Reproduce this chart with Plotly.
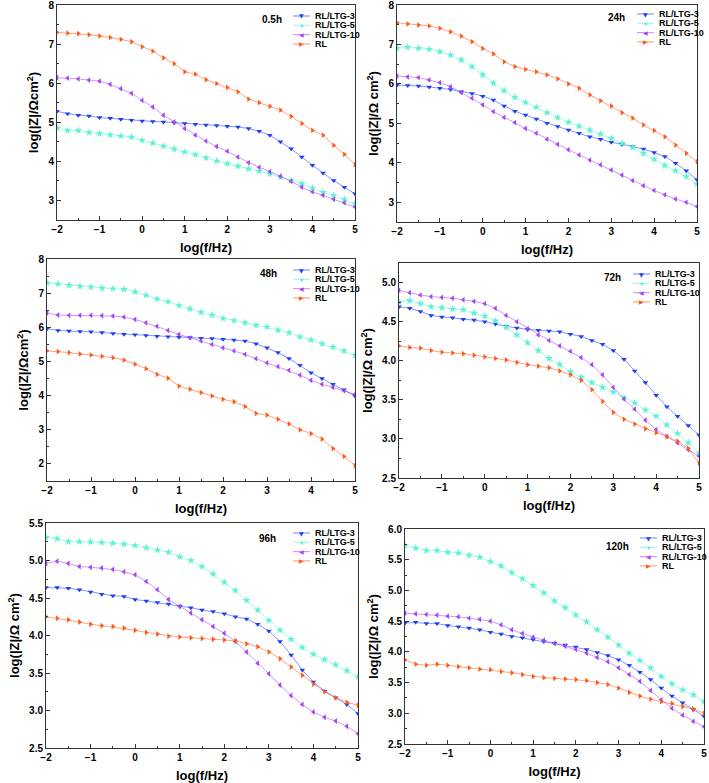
import plotly.graph_objects as go

# ---------------- data ----------------
freq_log = [-2, -1.75, -1.5, -1.25, -1, -0.75, -0.5, -0.25, 0, 0.25, 0.5, 0.75, 1,
            1.25, 1.5, 1.75, 2, 2.25, 2.5, 2.75, 3, 3.25, 3.5, 3.75, 4, 4.25, 4.5, 4.75, 5]

series_names = ["RL/LTG-3", "RL/LTG-5", "RL/LTG-10", "RL"]

# 0.5 h
h05_ltg3 = [5.28, 5.22, 5.18, 5.16, 5.12, 5.10, 5.08, 5.05, 5.03, 5.02, 5.01, 4.99, 4.97, 4.95, 4.93,
            4.92, 4.90, 4.88, 4.84, 4.77, 4.67, 4.50, 4.32, 4.11, 3.90, 3.70, 3.51, 3.34, 3.17]
h05_ltg5 = [4.85, 4.79, 4.79, 4.74, 4.71, 4.68, 4.65, 4.62, 4.54, 4.47, 4.39, 4.32, 4.24, 4.17, 4.09,
            4.01, 3.94, 3.88, 3.81, 3.75, 3.68, 3.60, 3.51, 3.43, 3.32, 3.21, 3.13, 3.03, 2.91]
h05_ltg10 = [6.14, 6.13, 6.11, 6.08, 6.05, 5.97, 5.86, 5.74, 5.56, 5.39, 5.18, 5.01, 4.84, 4.67, 4.52,
             4.38, 4.26, 4.11, 3.97, 3.85, 3.74, 3.62, 3.49, 3.34, 3.22, 3.13, 3.03, 2.94, 2.83]
h05_rl = [7.30, 7.28, 7.27, 7.24, 7.21, 7.17, 7.12, 7.06, 6.93, 6.82, 6.65, 6.50, 6.29, 6.23, 6.09,
          5.99, 5.89, 5.78, 5.59, 5.50, 5.41, 5.31, 5.15, 4.97, 4.79, 4.67, 4.41, 4.18, 3.92]

# 24 h
h24_ltg3 = [5.97, 5.96, 5.95, 5.92, 5.89, 5.86, 5.80, 5.76, 5.69, 5.59, 5.44, 5.31, 5.21, 5.11, 5.00,
            4.92, 4.83, 4.75, 4.66, 4.60, 4.52, 4.47, 4.41, 4.35, 4.26, 4.16, 3.99, 3.80, 3.57]
h24_ltg5 = [6.90, 6.93, 6.90, 6.88, 6.82, 6.73, 6.61, 6.44, 6.23, 6.02, 5.83, 5.66, 5.53, 5.41, 5.27,
            5.15, 5.03, 4.93, 4.83, 4.73, 4.62, 4.50, 4.39, 4.24, 4.09, 3.93, 3.80, 3.65, 3.46]
h24_ltg10 = [6.20, 6.18, 6.16, 6.10, 6.03, 5.93, 5.78, 5.64, 5.47, 5.30, 5.15, 5.02, 4.87, 4.75, 4.60,
             4.47, 4.33, 4.20, 4.07, 3.95, 3.82, 3.69, 3.55, 3.42, 3.30, 3.19, 3.08, 3.00, 2.89]
h24_rl = [7.55, 7.52, 7.49, 7.47, 7.41, 7.32, 7.21, 7.07, 6.90, 6.76, 6.56, 6.44, 6.37, 6.31, 6.23,
          6.13, 6.00, 5.89, 5.72, 5.57, 5.44, 5.27, 5.13, 4.96, 4.82, 4.66, 4.45, 4.24, 4.03]

# 48 h
h48_ltg3 = [5.96, 5.91, 5.89, 5.88, 5.87, 5.85, 5.82, 5.80, 5.78, 5.76, 5.74, 5.72, 5.71, 5.70, 5.68,
            5.67, 5.65, 5.63, 5.60, 5.52, 5.40, 5.26, 5.09, 4.89, 4.67, 4.50, 4.33, 4.17, 3.99]
h48_ltg5 = [7.30, 7.27, 7.23, 7.20, 7.18, 7.15, 7.13, 7.11, 7.04, 6.94, 6.83, 6.75, 6.64, 6.54, 6.44,
            6.36, 6.26, 6.20, 6.13, 6.06, 6.01, 5.92, 5.84, 5.72, 5.63, 5.52, 5.42, 5.31, 5.18]
h48_ltg10 = [6.42, 6.36, 6.35, 6.35, 6.35, 6.34, 6.33, 6.30, 6.23, 6.13, 6.03, 5.91, 5.79, 5.69, 5.60,
             5.50, 5.40, 5.31, 5.21, 5.08, 4.96, 4.85, 4.74, 4.60, 4.45, 4.33, 4.24, 4.14, 4.04]
h48_rl = [5.31, 5.29, 5.26, 5.22, 5.19, 5.15, 5.11, 5.04, 4.92, 4.79, 4.62, 4.51, 4.28, 4.19, 4.09,
          3.99, 3.89, 3.82, 3.68, 3.48, 3.43, 3.31, 3.17, 3.00, 2.89, 2.73, 2.45, 2.22, 1.95]

# 72 h
h72_ltg3 = [4.69, 4.67, 4.63, 4.58, 4.56, 4.55, 4.53, 4.52, 4.50, 4.47, 4.44, 4.42, 4.40, 4.39, 4.38,
            4.37, 4.34, 4.31, 4.26, 4.21, 4.13, 4.02, 3.87, 3.72, 3.56, 3.41, 3.29, 3.17, 3.05]
h72_ltg5 = [4.75, 4.77, 4.73, 4.69, 4.68, 4.66, 4.65, 4.61, 4.57, 4.51, 4.43, 4.33, 4.23, 4.13, 4.03,
            3.95, 3.86, 3.79, 3.72, 3.66, 3.60, 3.53, 3.46, 3.37, 3.29, 3.18, 3.07, 2.95, 2.82]
h72_ltg10 = [4.90, 4.87, 4.84, 4.82, 4.81, 4.80, 4.78, 4.76, 4.73, 4.67, 4.58, 4.50, 4.41, 4.33, 4.26,
             4.19, 4.12, 4.04, 3.95, 3.82, 3.66, 3.51, 3.38, 3.24, 3.12, 3.03, 2.95, 2.86, 2.78]
h72_rl = [4.19, 4.17, 4.16, 4.13, 4.11, 4.10, 4.09, 4.07, 4.05, 4.03, 4.01, 3.98, 3.95, 3.93, 3.91,
          3.87, 3.82, 3.75, 3.63, 3.48, 3.34, 3.25, 3.19, 3.13, 3.08, 3.03, 2.97, 2.88, 2.69]

# 96 h
h96_ltg3 = [4.64, 4.64, 4.63, 4.61, 4.58, 4.55, 4.53, 4.52, 4.48, 4.46, 4.44, 4.42, 4.39, 4.37, 4.34,
            4.32, 4.29, 4.25, 4.22, 4.15, 4.06, 3.92, 3.74, 3.54, 3.38, 3.26, 3.17, 3.08, 2.96]
h96_ltg5 = [5.31, 5.29, 5.25, 5.25, 5.25, 5.24, 5.23, 5.22, 5.20, 5.17, 5.14, 5.11, 5.05, 5.00, 4.92,
            4.82, 4.71, 4.60, 4.47, 4.34, 4.20, 4.07, 3.95, 3.84, 3.75, 3.68, 3.61, 3.53, 3.45]
h96_ltg10 = [4.96, 4.99, 4.96, 4.92, 4.91, 4.90, 4.88, 4.85, 4.81, 4.72, 4.61, 4.48, 4.39, 4.30, 4.21,
             4.12, 4.03, 3.92, 3.78, 3.63, 3.49, 3.34, 3.20, 3.08, 2.98, 2.91, 2.86, 2.79, 2.69]
h96_rl = [4.25, 4.23, 4.21, 4.18, 4.15, 4.13, 4.12, 4.10, 4.07, 4.04, 4.02, 3.99, 3.98, 3.97, 3.96,
          3.95, 3.94, 3.93, 3.89, 3.85, 3.78, 3.69, 3.58, 3.47, 3.35, 3.25, 3.17, 3.11, 3.07]

# 120 h
h120_ltg3 = [4.47, 4.48, 4.46, 4.46, 4.43, 4.41, 4.39, 4.36, 4.32, 4.29, 4.25, 4.23, 4.20, 4.17, 4.14,
             4.11, 4.08, 4.04, 3.99, 3.94, 3.87, 3.78, 3.67, 3.55, 3.41, 3.28, 3.17, 3.06, 2.95]
h120_ltg5 = [5.73, 5.69, 5.65, 5.65, 5.62, 5.61, 5.57, 5.54, 5.47, 5.40, 5.29, 5.19, 5.08, 4.96, 4.83,
             4.72, 4.60, 4.49, 4.36, 4.24, 4.11, 3.98, 3.86, 3.74, 3.60, 3.48, 3.38, 3.30, 3.19]
h120_ltg10 = [4.63, 4.62, 4.61, 4.60, 4.58, 4.57, 4.55, 4.53, 4.50, 4.44, 4.36, 4.30, 4.24, 4.19, 4.14,
              4.09, 4.04, 3.98, 3.91, 3.84, 3.74, 3.63, 3.52, 3.37, 3.22, 3.08, 2.97, 2.87, 2.78]
h120_rl = [3.87, 3.80, 3.78, 3.80, 3.78, 3.76, 3.74, 3.72, 3.71, 3.68, 3.66, 3.63, 3.60, 3.58, 3.57,
           3.56, 3.55, 3.53, 3.50, 3.47, 3.41, 3.34, 3.28, 3.23, 3.19, 3.16, 3.11, 3.07, 3.00]

panel_labels = ["0.5h", "24h", "48h", "72h", "96h", "120h"]
panel_data = [
    [h05_ltg3, h05_ltg5, h05_ltg10, h05_rl],
    [h24_ltg3, h24_ltg5, h24_ltg10, h24_rl],
    [h48_ltg3, h48_ltg5, h48_ltg10, h48_rl],
    [h72_ltg3, h72_ltg5, h72_ltg10, h72_rl],
    [h96_ltg3, h96_ltg5, h96_ltg10, h96_rl],
    [h120_ltg3, h120_ltg5, h120_ltg10, h120_rl],
]
y_titles = ["log(|Z|/Ωcm<sup>2</sup>)", "log(|Z|/Ω cm<sup>2</sup>)", "log(|Z|/Ωcm<sup>2</sup>)",
            "log(|Z|/Ω cm<sup>2</sup>)", "log(|Z|/Ω cm<sup>2</sup>)", "log(|Z|/Ω cm<sup>2</sup>)"]
y_ranges = [[2.5, 8], [2.5, 8], [1.5, 8], [2.5, 5.25], [2.5, 5.5], [2.5, 6.0]]
y_dticks = [1, 1, 1, 0.5, 0.5, 0.5]
x_tickvals = [-2, -1, 0, 1, 2, 3, 4, 5]

# ---------------- styling / layout (pixels) ----------------
W, H = 709, 783
# plot areas: (left, right, top, bottom)
boxes = [(57, 355, 5, 220), (397, 697, 5, 222),
         (47, 355, 259, 481), (399, 699, 263, 478),
         (46, 358, 523, 748), (405, 704, 529, 744)]
# panel label centre (fraction of width, px below top); legend text start (px from right), first row (px below top)
label_pos = [(0.72, 14), (0.73, 12), (0.72, 14), (0.71, 14), (0.71, 15), (0.71, 17)]
legend_pos = [(42, 11), (40, 9), (42, 11), (46, 11), (45, 10), (44, 9)]
legend_row = 9.3

marker_colors = ["#1f3ff5", "#5cf2d6", "#a646f2", "#ff5a1a"]
line_colors = ["rgba(31,63,245,0.55)", "rgba(92,242,214,0.55)", "rgba(166,70,242,0.55)",
               "rgba(255,90,26,0.55)"]
symbols = ["triangle-down", "star", "triangle-left", "triangle-right"]
glyphs = ["▼", "★", "◀", "▶"]
sizes = [5, 6, 5, 5]
FONT = "Liberation Sans, Arial, sans-serif"
axis_col = "#333333"

fig = go.Figure()
layout = dict(width=W, height=H, margin=dict(l=0, r=0, t=0, b=0, autoexpand=False),
              plot_bgcolor="white", paper_bgcolor="white", showlegend=False,
              font=dict(family=FONT, color="black"), annotations=[], shapes=[])


def px(xp):
    return xp / W


def py(yp):
    return 1 - yp / H


for p in range(6):
    n = p + 1
    sfx = "" if n == 1 else str(n)
    xa, ya = "x" + sfx, "y" + sfx
    for s in range(4):
        fig.add_trace(go.Scatter(
            x=freq_log, y=panel_data[p][s], name=series_names[s], mode="lines+markers",
            line=dict(color=line_colors[s], width=1),
            marker=dict(color=marker_colors[s], symbol=symbols[s], size=sizes[s], line=dict(width=0)),
            xaxis=xa, yaxis=ya, showlegend=False))
    l, r, t, b = boxes[p]
    common = dict(showline=True, linecolor=axis_col, linewidth=1, mirror=True,
                  showgrid=False, zeroline=False, ticks="inside", ticklen=4,
                  tickcolor=axis_col, tickwidth=1, automargin=False,
                  ticklabeloverflow="allow",
                  tickfont=dict(family=FONT, size=10, weight="bold", color="black"))
    layout["xaxis" + sfx] = dict(common, domain=[px(l), px(r)], range=[-2, 5.0], tickvals=x_tickvals,
                                 anchor=ya,
                                 minor=dict(ticks="inside", ticklen=2, dtick=0.5, tick0=0,
                                            tickcolor=axis_col),
                                 title=dict(text="log(f/Hz)", standoff=8,
                                            font=dict(family=FONT, size=13, weight="bold")))
    layout["yaxis" + sfx] = dict(common, domain=[py(b), py(t)], range=y_ranges[p], dtick=y_dticks[p],
                                 tick0=0, anchor=xa,
                                 tickformat=(".1f" if y_dticks[p] < 1 else "d"),
                                 minor=dict(ticks="inside", ticklen=2, dtick=y_dticks[p] / 2,
                                            tick0=0, tickcolor=axis_col),
                                 title=dict(text=y_titles[p], standoff=6,
                                            font=dict(family=FONT, size=13, weight="bold")))
    # panel label
    fx, dy = label_pos[p]
    layout["annotations"].append(dict(
        text=panel_labels[p], xref="paper", yref="paper",
        x=px(l + fx * (r - l)), y=py(t + dy), xanchor="center", yanchor="middle",
        showarrow=False, font=dict(family=FONT, size=10, weight="bold")))
    # legend (compact, like the original)
    dx, dy0 = legend_pos[p]
    tx = r - dx
    for s in range(4):
        yy = t + dy0 + s * legend_row
        layout["shapes"].append(dict(type="line", xref="paper", yref="paper",
                                     x0=px(tx - 20), x1=px(tx - 3), y0=py(yy), y1=py(yy),
                                     line=dict(color=line_colors[s], width=1.2)))
        layout["annotations"].append(dict(
            text=glyphs[s], xref="paper", yref="paper", x=px(tx - 11.5), y=py(yy),
            xanchor="center", yanchor="middle", showarrow=False,
            font=dict(family="DejaVu Sans", size=6, color=marker_colors[s])))
        layout["annotations"].append(dict(
            text=series_names[s], xref="paper", yref="paper", x=px(tx), y=py(yy),
            xanchor="left", yanchor="middle", showarrow=False,
            font=dict(family=FONT, size=9, weight="bold")))

fig.update_layout(**layout)
fig.write_html("out.html", config={"displayModeBar": False},
               post_script="document.body.style.margin='0';document.body.style.overflow='hidden';")
